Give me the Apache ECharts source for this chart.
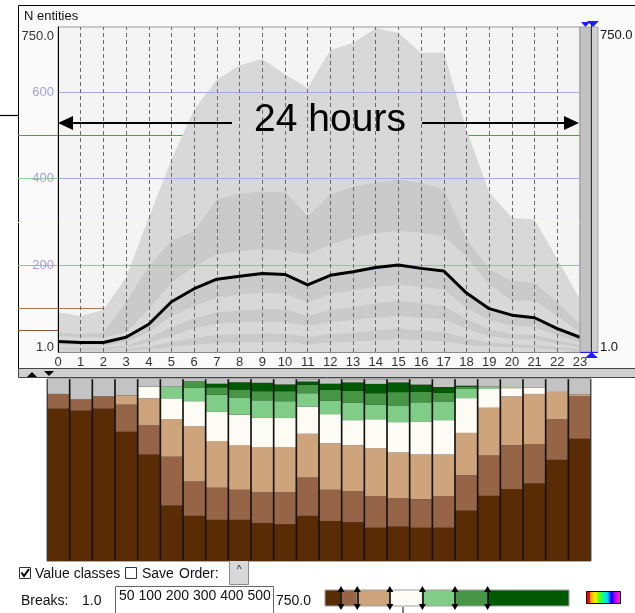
<!DOCTYPE html>
<html><head><meta charset="utf-8">
<script src="https://cdn.jsdelivr.net/npm/echarts@6/dist/echarts.min.js"></script>
<style>html,body{margin:0;padding:0;background:#fff}#c{width:635px;height:613px}</style>
</head><body><div id="c"></div>
<script>
// ---------- data ----------
const HOURS = [0,1,2,3,4,5,6,7,8,9,10,11,12,13,14,15,16,17,18,19,20,21,22,23];
// envelope / quantile band boundaries of N entities per hour (top to bottom)
const MAX_ENV = [92, 83, 97, 172, 310, 444, 559, 628, 662, 676, 641, 609, 697, 713, 747, 736, 690, 692, 513, 368, 310, 306, 214, 122];
const BAND_1  = [45, 41, 45, 114, 198, 256, 279, 352, 366, 370, 370, 313, 363, 382, 391, 398, 390, 375, 260, 191, 164, 160, 114, 64];
const BAND_2  = [37, 34, 34, 45, 99, 160, 198, 225, 233, 237, 234, 225, 248, 264, 274, 279, 275, 267, 221, 156, 118, 118, 83, 45];
const MEDIAN  = [24, 22, 22, 34, 64, 116, 146, 168, 175, 181, 179, 155, 177, 185, 195, 201, 193, 187, 136, 100, 85, 79, 54, 34];
const BAND_3  = [16, 15, 15, 23, 46, 83, 106, 125, 133, 137, 135, 115, 134, 142, 150, 156, 150, 144, 102, 73, 61, 57, 38, 23];
const BAND_4  = [11, 10, 10, 15, 32, 57, 78, 92, 95, 99, 98, 83, 97, 104, 112, 118, 112, 106, 76, 52, 41, 39, 27, 16];
const BAND_5  = [7, 6, 6, 10, 22, 37, 55, 65, 68, 70, 69, 60, 69, 74, 79, 83, 79, 75, 54, 37, 30, 28, 19, 11];
const BAND_6  = [4, 4, 4, 6, 13, 22, 33, 39, 41, 43, 42, 35, 41, 45, 49, 55, 49, 46, 32, 22, 18, 16, 11, 7];
const BAND_7  = [2, 2, 2, 3, 6, 11, 17, 21, 22, 23, 23, 18, 22, 24, 27, 30, 27, 25, 17, 12, 11, 9, 6, 4];
const Y_TICKS = [600, 400, 200];
const Y_MIN_LABEL = '1.0';
const Y_MAX_LABEL = '750.0';
const RANGE_MIN = 1;
const RANGE_MAX = 750;
const BREAKS = [50, 100, 200, 300, 400, 500];
// class shares per hour (percent), bottom to top
const SHARE_1_50    = [83.7, 82.6, 83.7, 71.0, 58.5, 30.5, 24.8, 22.6, 22.6, 20.9, 20.2, 24.8, 22.0, 21.3, 18.3, 18.9, 18.3, 18.3, 27.7, 35.8, 39.6, 42.6, 55.6, 67.2];
const SHARE_50_100  = [8.1, 6.2, 6.8, 14.9, 16.0, 26.8, 18.9, 17.6, 16.5, 16.9, 17.6, 21.1, 17.1, 17.2, 17.4, 15.6, 15.6, 17.4, 19.4, 22.2, 24.0, 21.7, 22.4, 23.3];
const SHARE_100_200 = [0, 0, 0, 5.1, 14.9, 20.7, 30.3, 25.7, 24.6, 24.8, 24.8, 24.0, 25.5, 25.1, 26.2, 25.1, 24.6, 22.8, 23.3, 26.2, 26.8, 27.5, 14.9, 1.1];
const SHARE_200_300 = [0, 0, 0, 0, 6.4, 11.4, 13.8, 16.0, 16.7, 16.0, 16.0, 15.0, 16.1, 13.8, 16.0, 16.7, 18.2, 18.9, 19.1, 10.3, 4.6, 3.5, 0, 0];
const SHARE_300_400 = [0, 0, 0, 0, 0, 6.4, 7.3, 9.5, 9.2, 9.7, 9.2, 7.3, 7.5, 9.7, 7.9, 9.2, 10.5, 10.3, 5.1, 1.3, 0.6, 0, 0, 0];
const SHARE_400_500 = [0, 0, 0, 0, 0, 0, 3.7, 4.0, 4.6, 5.0, 5.5, 4.6, 5.9, 6.4, 6.4, 7.3, 5.7, 4.6, 1.1, 0, 0, 0, 0, 0];
const SHARE_500_750 = [0, 0, 0, 0, 0, 0, 0, 2.0, 4.0, 4.6, 3.7, 1.8, 3.3, 4.6, 5.1, 5.3, 4.0, 3.3, 0.6, 0, 0, 0, 0, 0];
const SHARE_NONE    = [8.3, 11.2, 9.5, 9.0, 4.2, 4.2, 1.3, 2.6, 1.8, 2.2, 3.1, 1.3, 2.6, 1.8, 2.6, 1.8, 3.1, 4.4, 3.7, 4.2, 4.4, 4.8, 7.2, 8.4];

// ---------- styles ----------
const F = "'Liberation Sans', Arial, sans-serif";
const LIGHT = '#d8d8d8', DARK = '#cacaca';
const PURPLE = '#a8a8ec';
const CLASS_COLORS = ['#5a2c06', '#966446', '#cda47c', '#fcfcf4', '#7fcd87', '#469646', '#005a04'];
const NONE_COLOR = '#c3c3c3';
const BREAK_LINE_COLORS = ['#8a5a36', '#a8784e', '#d2a678', '#fbf6dc', '#8fd494', '#4e9c4e'];

const bandDefs = [
  [MAX_ENV, LIGHT], [BAND_1, DARK], [BAND_2, LIGHT], [MEDIAN, DARK],
  [BAND_3, LIGHT], [BAND_4, DARK], [BAND_5, LIGHT], [BAND_6, DARK], [BAND_7, LIGHT]
];
const pts = arr => HOURS.map((h, i) => [h, arr[i]]);
const empty = HOURS.map(h => [h, null]);

const series = [];
// break lines beneath the envelope
series.push({
  type: 'line', xAxisIndex: 0, yAxisIndex: 0, data: empty, z: 1, silent: true,
  markLine: { z: 1, silent: true, symbol: 'none', label: { show: false },
    data: BREAKS.map((b, i) => ({ yAxis: b, lineStyle: { color: BREAK_LINE_COLORS[i], width: 1, type: 'solid' } })) }
});
bandDefs.forEach(([arr, col]) => series.push({
  type: 'line', xAxisIndex: 0, yAxisIndex: 0, data: pts(arr), symbol: 'none', z: 2, silent: true,
  lineStyle: { width: 0, opacity: 0 }, areaStyle: { color: col, opacity: 1 }
}));
// overlay grid lines
series.push({
  type: 'line', xAxisIndex: 0, yAxisIndex: 0, data: empty, z: 3, silent: true,
  markLine: { z: 3, silent: true, symbol: 'none', label: { show: false },
    data: [
      ...Y_TICKS.map(v => ({ yAxis: v, lineStyle: { color: PURPLE, width: 1, type: 'solid' } })),
      ...HOURS.slice(1, -1).map(h => ({ xAxis: h, lineStyle: { color: '#6a6a6a', width: 1, type: [4, 3] } }))
    ] }
});
// median
series.push({
  type: 'line', xAxisIndex: 0, yAxisIndex: 0, data: pts(MEDIAN), symbol: 'none', z: 4, silent: true,
  lineStyle: { color: '#000', width: 3 }
});
// left break indicator strip
series.push({
  type: 'line', xAxisIndex: 1, yAxisIndex: 1, data: [[0, null]], z: 1, silent: true,
  markLine: { z: 1, silent: true, symbol: 'none', label: { show: false },
    data: BREAKS.map((b, i) => ({ yAxis: b, lineStyle: { color: BREAK_LINE_COLORS[i], width: 1, type: 'solid' } })) }
});
// stacked class bars
const SHARES = [SHARE_1_50, SHARE_50_100, SHARE_100_200, SHARE_200_300, SHARE_300_400, SHARE_400_500, SHARE_500_750, SHARE_NONE];
const SHARE_COLORS = [...CLASS_COLORS, NONE_COLOR];
SHARES.forEach((arr, i) => series.push({
  type: 'bar', xAxisIndex: 2, yAxisIndex: 2, stack: 'classes', barWidth: 21, silent: true,
  data: arr, itemStyle: { color: SHARE_COLORS[i] }
}));
// legend bar
const stops = [RANGE_MIN, ...BREAKS, RANGE_MAX];
const legendData = stops.slice(0, -1).map((lo, i) => [lo, stops[i + 1], 0, i]);
series.push({
  type: 'custom', xAxisIndex: 3, yAxisIndex: 3, data: legendData, silent: true,
  encode: { x: [0, 1], y: 2 },
  renderItem: (params, api) => {
    const a = api.coord([api.value(0), api.value(2)]);
    const b = api.coord([api.value(1), api.value(2)]);
    return { type: 'rect', shape: { x: a[0], y: a[1] - 8, width: b[0] - a[0], height: 16 },
      style: { fill: CLASS_COLORS[api.value(3)], stroke: '#a0a0a0', lineWidth: 1 } };
  },
  markLine: { silent: true, symbol: ['triangle', 'triangle'], symbolSize: [7, 6], label: { show: false },
    lineStyle: { color: '#000', width: 1.5, type: 'solid' },
    data: BREAKS.map(b => ({ xAxis: b })) }
});

const yLabel = v => {
  if (v === RANGE_MAX) return '{k|' + Y_MAX_LABEL + '}';
  if (v === 0) return '{b|' + Y_MIN_LABEL + '}';
  if (Y_TICKS.includes(v)) return '{p|' + v + '}';
  return '';
};

const txt = (text, x, y, size, color, align) => ({
  type: 'text', z: 8, style: { text, x, y, font: size + 'px ' + F, fill: color || '#111', align: align || 'left', verticalAlign: 'middle' }
});

const graphic = [
  { type: 'rect', z: -10, shape: { x: 18.5, y: 5.5, width: 630, height: 363 }, style: { fill: '#fafafa', stroke: '#000', lineWidth: 1 } },
  { type: 'line', shape: { x1: 0, y1: 115.5, x2: 18, y2: 115.5 }, style: { stroke: '#000', lineWidth: 1.2 } },
  txt('N entities', 24, 16, 13),
  // right slider
  { type: 'rect', z: 5, shape: { x: 580, y: 27, width: 11, height: 325 }, style: { fill: '#c2c2c2', stroke: '#9a9a9a', lineWidth: 1 } },
  { type: 'rect', z: 5, shape: { x: 591, y: 27, width: 7, height: 325 }, style: { fill: '#d0d0d0', stroke: '#a8a8a8', lineWidth: 1 } },
  { type: 'line', z: 6, shape: { x1: 591.5, y1: 24, x2: 591.5, y2: 354 }, style: { stroke: '#333', lineWidth: 1 } },
  { type: 'polygon', z: 7, shape: { points: [[581, 22], [590, 22], [585.5, 27]] }, style: { fill: '#1c1cff' } },
  { type: 'polygon', z: 7, shape: { points: [[587, 21], [599, 21], [593, 27]] }, style: { fill: '#1c1cff' } },
  { type: 'polygon', z: 7, shape: { points: [[585, 358], [598, 358], [591.5, 352]] }, style: { fill: '#1c1cff' } },
  { type: 'line', z: 7, shape: { x1: 580, y1: 352.5, x2: 598, y2: 352.5 }, style: { stroke: '#1c1cff', lineWidth: 1 } },
  txt(Y_MAX_LABEL, 600, 35, 13),
  txt(Y_MIN_LABEL, 600, 347, 13),
  // annotation
  txt('24 hours', 330, 120, 39, '#000', 'center'),
  { type: 'line', z: 8, shape: { x1: 72, y1: 123, x2: 232, y2: 123 }, style: { stroke: '#000', lineWidth: 2 } },
  { type: 'polygon', z: 8, shape: { points: [[58, 123], [73, 116], [73, 130]] }, style: { fill: '#000' } },
  { type: 'line', z: 8, shape: { x1: 422, y1: 123, x2: 566, y2: 123 }, style: { stroke: '#000', lineWidth: 2 } },
  { type: 'polygon', z: 8, shape: { points: [[579, 123], [564, 116], [564, 130]] }, style: { fill: '#000' } },
  // divider strip
  { type: 'rect', shape: { x: 18.5, y: 368.5, width: 630, height: 9 }, style: { fill: '#d0d0d0', stroke: '#444', lineWidth: 1 } },
  { type: 'polygon', shape: { points: [[27, 377], [37, 377], [32, 372]] }, style: { fill: '#000' } },
  { type: 'polygon', shape: { points: [[44, 371], [54, 371], [49, 376]] }, style: { fill: '#000' } },
  // controls
  { type: 'rect', shape: { x: 19.5, y: 567.5, width: 11, height: 11 }, style: { fill: '#fff', stroke: '#333', lineWidth: 1 } },
  { type: 'polyline', shape: { points: [[21.5, 572.5], [24, 576], [29, 569]] }, style: { stroke: '#000', lineWidth: 2, fill: null } },
  txt('Value classes', 35, 574, 14),
  { type: 'rect', shape: { x: 125.5, y: 567.5, width: 11, height: 11 }, style: { fill: '#fff', stroke: '#333', lineWidth: 1 } },
  txt('Save', 142, 574, 14),
  txt('Order:', 179, 574, 14),
  { type: 'rect', shape: { x: 229.5, y: 560.5, width: 19, height: 24 }, style: { fill: '#d8d8d8', stroke: '#8a8a8a', lineWidth: 1 } },
  txt('^', 239, 570, 10, '#222', 'center'),
  txt('Breaks:', 21, 601, 14),
  txt('1.0', 82, 601, 14),
  { type: 'rect', shape: { x: 115.5, y: 586.5, width: 158, height: 30 }, style: { fill: '#fff', stroke: '#666', lineWidth: 1 } },
  txt(BREAKS.join(' '), 119, 596, 14),
  txt('750.0', 276, 601, 14),
  { type: 'line', shape: { x1: 403, y1: 607, x2: 403, y2: 613 }, style: { stroke: '#000', lineWidth: 1 } },
  { type: 'rect', shape: { x: 586.5, y: 591.5, width: 34, height: 12 },
    style: { stroke: '#000', lineWidth: 1,
      fill: new echarts.graphic.LinearGradient(0, 0, 1, 0, [
        { offset: 0, color: '#ff0000' }, { offset: 0.12, color: '#ff0000' },
        { offset: 0.12, color: '#ff9900' }, { offset: 0.25, color: '#ffee00' },
        { offset: 0.38, color: '#66ff00' }, { offset: 0.5, color: '#00ffaa' },
        { offset: 0.62, color: '#00ccff' }, { offset: 0.72, color: '#0000ff' },
        { offset: 0.85, color: '#cc00ff' }, { offset: 1, color: '#ff33aa' }]) } }
];

const option = {
  animation: false,
  backgroundColor: '#ffffff',
  textStyle: { fontFamily: F },
  grid: [
    { left: 58, top: 27, width: 522, height: 325, show: true, backgroundColor: '#f4f4f4', borderColor: '#999', borderWidth: 1 },
    { left: 18, top: 27, width: 40, height: 325 },
    { left: 47, top: 379, width: 544, height: 182, show: true, backgroundColor: '#141414', borderColor: '#555', borderWidth: 1 },
    { left: 325, top: 589, width: 244, height: 18 }
  ],
  xAxis: [
    { type: 'value', gridIndex: 0, min: 0, max: 23, interval: 1,
      axisLine: { show: true, lineStyle: { color: '#8a8a8a' } }, axisTick: { show: false }, splitLine: { show: false },
      axisLabel: { color: '#333', fontSize: 13, margin: 4, fontFamily: F } },
    { type: 'value', gridIndex: 1, min: 0, max: 1, show: false },
    { type: 'category', gridIndex: 2, data: HOURS.map(String), show: false },
    { type: 'value', gridIndex: 3, min: RANGE_MIN, max: RANGE_MAX, show: false }
  ],
  yAxis: [
    { type: 'value', gridIndex: 0, min: 0, max: RANGE_MAX, interval: 50, z: 10,
      axisLine: { show: true, lineStyle: { color: '#000' } }, axisTick: { show: false }, splitLine: { show: false },
      axisLabel: { margin: 4, fontSize: 13, fontFamily: F, formatter: yLabel,
        rich: { k: { color: '#333', fontSize: 13, fontFamily: F, padding: [18, 0, 0, 0] },
                b: { color: '#333', fontSize: 13, fontFamily: F, padding: [0, 0, 10, 0] },
                p: { color: '#a0a0e4', fontSize: 13, fontFamily: F } } } },
    { type: 'value', gridIndex: 1, min: 0, max: RANGE_MAX, show: false },
    { type: 'value', gridIndex: 2, min: 0, max: 100, show: false },
    { type: 'value', gridIndex: 3, min: -1, max: 1, show: false }
  ],
  series,
  graphic
};

const chart = echarts.init(document.getElementById('c'), null, { renderer: 'canvas' });
chart.setOption(option);
</script>
</body></html>
